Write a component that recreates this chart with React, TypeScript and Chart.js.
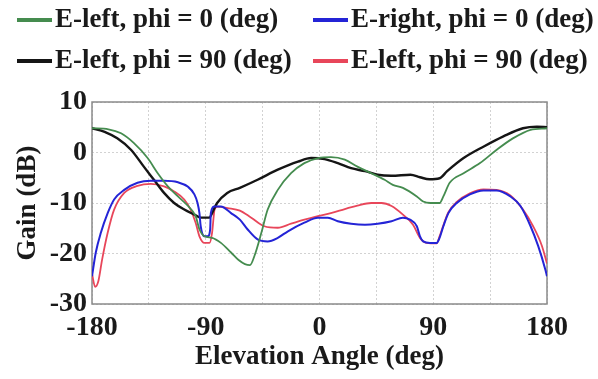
import React, { useEffect, useRef } from "react";
import { Chart, registerables } from "chart.js";

Chart.register(...registerables);

// ---- data ----
const greenAngles = [-180, -167, -157, -147, -136, -128, -120, -112, -104, -98, -95, -91, -85, -78, -70, -64, -59, -55, -51.5, -46, -41, -33, -22.5, -12, -1, 9, 20, 30, 41, 51.5, 58, 66, 77, 82, 88, 95, 98, 103, 114, 127, 140, 153, 167, 180];
const greenValues = [4.8, 4.6, 3.8, 1.9, -1.1, -4.1, -6.7, -8.7, -10.6, -12.6, -15.2, -16.6, -16.9, -17.9, -19.8, -21.3, -22.1, -22.3, -20.5, -15.9, -11.3, -7.4, -4.1, -2.1, -1.1, -0.9, -1.4, -2.8, -4.1, -5.4, -6.4, -7.0, -8.7, -9.7, -10, -10, -8.7, -6.0, -4.1, -2.1, 0.5, 2.8, 4.5, 4.8];

const blackAngles = [-180, -170, -160, -149, -139, -131, -123, -115, -107, -99, -94, -87, -85, -81, -73, -63, -49, -33, -17, -6.6, 4, 14.5, 25, 36, 46, 57, 72, 79.5, 87, 95, 101, 114, 130, 145.5, 161, 172, 180];
const blackValues = [4.8, 4.1, 2.8, 0.5, -2.8, -5.4, -8.0, -10.0, -11.3, -12.3, -12.9, -12.9, -12, -10, -8.0, -7.0, -5.4, -3.4, -1.8, -1.1, -1.3, -2.1, -3.1, -3.7, -4.4, -4.6, -4.4, -4.9, -5.3, -5.1, -3.7, -1.1, 1.2, 3.2, 4.8, 5.1, 5.0];

const blueAngles = [-180, -177, -173, -167.6, -162.5, -154.5, -144, -133.5, -123, -112, -104, -99, -96.5, -95, -94, -91, -88.5, -86.5, -86, -83, -78, -70, -63, -57, -49, -41, -33, -25, -12, -1.3, 6.6, 14.5, 25, 36, 46, 57, 66, 71.6, 77, 79.5, 82, 87.4, 92.7, 95, 98, 102, 108.6, 119, 129.7, 140, 151, 159, 167, 173, 178.6, 180];
const blueValues = [-24.5, -19.8, -15.9, -12, -9.3, -7.4, -6.0, -5.6, -5.6, -5.9, -6.8, -8.3, -10, -12, -14.6, -16.6, -16.6, -15.2, -12, -10.7, -10.7, -12, -13.3, -15.2, -17.2, -17.6, -16.9, -15.6, -13.9, -12.9, -12.9, -13.6, -14.1, -14.3, -14.1, -13.6, -12.9, -13.3, -14.6, -16.6, -17.6, -17.9, -17.9, -16.9, -14.6, -12.0, -10, -8.3, -7.5, -7.5, -8.7, -10.6, -14.6, -18.5, -23.1, -24.5];

const redAngles = [-180, -177.5, -175, -172, -167.6, -162.5, -154.5, -144, -133.5, -123, -115, -107, -102, -98, -95, -91, -87, -85, -83, -80.6, -72.7, -63, -54, -43.6, -33, -22.5, -12, -1.3, 9, 20, 30, 41, 49, 57, 66, 74, 79.5, 84.7, 92.7, 95, 98, 102, 108.6, 119, 129.7, 140, 151, 161, 169, 176, 180];
const redValues = [-24, -26.6, -25.5, -21.2, -15.9, -11.3, -8.0, -6.6, -6.2, -6.7, -7.7, -9.3, -11.3, -13.9, -16.6, -17.9, -17.9, -15.9, -11.3, -10.7, -11, -11.5, -12.9, -14.6, -14.9, -14.1, -13.3, -12.6, -12, -11.2, -10.5, -10, -10, -10.6, -12.3, -14.3, -16.9, -17.9, -18, -16.6, -14.4, -11.8, -9.8, -8.1, -7.3, -7.4, -8.5, -11.3, -14.6, -18.5, -22];

const seriesLabels = [
  "E-left, phi = 0 (deg)",
  "E-right, phi = 0 (deg)",
  "E-left, phi = 90 (deg)",
  "E-left, phi = 90 (deg)",
];
const seriesColors = ["#458c4f", "#2424d6", "#151515", "#e8465a"];
const seriesWidths = [1.8, 2, 2.4, 1.8];

const xTickLabels = [-180, -90, 0, 90, 180];
const yTickLabels = [-30, -20, -10, 0, 10];

const toPoints = (xs: number[], ys: number[]) => xs.map((x, i) => ({ x, y: ys[i] }));

const FONT = "'Liberation Serif', 'Times New Roman', serif";

const legendPlugin = {
  id: "gridLegend",
  afterDraw(chart: any) {
    const ctx = chart.ctx;
    const slots = [
      { x: 17, y: 20 },
      { x: 313, y: 20 },
      { x: 17, y: 61 },
      { x: 313, y: 61 },
    ];
    ctx.save();
    chart.data.datasets.forEach((ds: any, i: number) => {
      const s = slots[i];
      ctx.strokeStyle = ds.borderColor;
      ctx.lineWidth = 4;
      ctx.beginPath();
      ctx.moveTo(s.x, s.y);
      ctx.lineTo(s.x + 35, s.y);
      ctx.stroke();
      ctx.fillStyle = "#1a1a1a";
      ctx.font = `bold 27px ${FONT}`;
      ctx.textBaseline = "middle";
      ctx.textAlign = "left";
      ctx.fillText(ds.label, s.x + 38, s.y);
    });
    ctx.restore();
  },
};

const framePlugin = {
  id: "frame",
  beforeDatasetsDraw(chart: any) {
    const { ctx, chartArea: a } = chart;
    ctx.save();
    ctx.strokeStyle = "#8a8a8a";
    ctx.lineWidth = 1.5;
    ctx.strokeRect(a.left, a.top, a.right - a.left, a.bottom - a.top);
    ctx.restore();
  },
};

export default function App() {
  const ref = useRef<HTMLCanvasElement | null>(null);

  useEffect(() => {
    if (!ref.current) return;
    const order = [
      toPoints(greenAngles, greenValues),
      toPoints(blueAngles, blueValues),
      toPoints(blackAngles, blackValues),
      toPoints(redAngles, redValues),
    ];
    const chart = new Chart(ref.current, {
      type: "line",
      data: {
        datasets: order.map((pts, i) => ({
          label: seriesLabels[i],
          data: pts,
          borderColor: seriesColors[i],
          backgroundColor: seriesColors[i],
          borderWidth: seriesWidths[i],
          pointRadius: 0,
          cubicInterpolationMode: "monotone" as const,
          fill: false,
        })),
      },
      options: {
        animation: false,
        responsive: false,
        layout: { padding: { top: 102, right: 51, bottom: 0, left: 0 } },
        plugins: { legend: { display: false }, tooltip: { enabled: false } },
        scales: {
          x: {
            type: "linear",
            min: xTickLabels[0],
            max: xTickLabels[xTickLabels.length - 1],
            afterFit: (s: any) => {
              s.height = 75;
            },
            ticks: {
              stepSize: 45,
              autoSkip: false,
              maxRotation: 0,
              padding: 7,
              color: "#1a1a1a",
              font: { family: FONT, size: 28, weight: "bold" },
              callback: (v: any) => (xTickLabels.includes(Number(v)) ? String(v) : ""),
            },
            grid: { color: "#d2d2d2", drawTicks: false, lineWidth: 1 },
            border: { display: false, dash: [2, 2] },
            title: {
              display: true,
              text: "Elevation Angle (deg)",
              color: "#1a1a1a",
              font: { family: FONT, size: 27, weight: "bold" },
              padding: { top: 0, bottom: 6 },
            },
          },
          y: {
            type: "linear",
            min: yTickLabels[0],
            max: yTickLabels[yTickLabels.length - 1],
            afterFit: (s: any) => {
              s.width = 92;
            },
            ticks: {
              stepSize: 10,
              padding: 5,
              color: "#1a1a1a",
              font: { family: FONT, size: 28, weight: "bold" },
            },
            grid: { color: "#d2d2d2", drawTicks: false, lineWidth: 1 },
            border: { display: false, dash: [2, 2] },
            title: {
              display: true,
              text: "Gain (dB)",
              color: "#1a1a1a",
              font: { family: FONT, size: 27, weight: "bold" },
              padding: { top: 12, bottom: 0 },
            },
          },
        },
      },
      plugins: [framePlugin, legendPlugin],
    });
    return () => chart.destroy();
  }, []);

  return (
    <div style={{ position: "absolute", left: 0, top: 0, width: 598, height: 379, background: "#fff" }}>
      <canvas ref={ref} width={598} height={379} />
    </div>
  );
}
